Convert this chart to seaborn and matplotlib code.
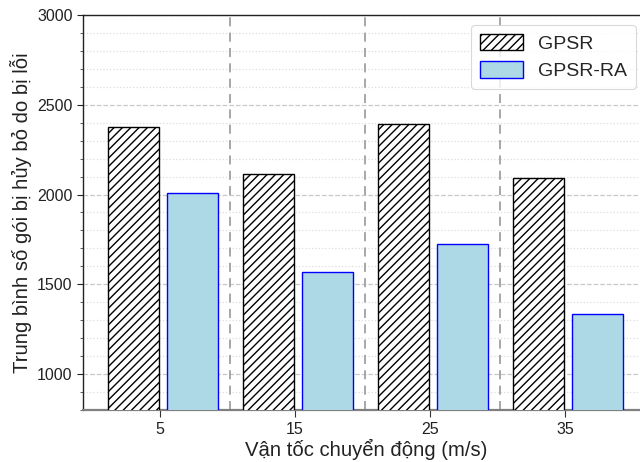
import matplotlib
matplotlib.use("Agg")
import matplotlib.pyplot as plt
from matplotlib.ticker import MultipleLocator
import seaborn as sns
import pandas as pd

speeds = [5, 15, 25, 35]
gpsr = [2378, 2112, 2393, 2093]
gpsr_ra = [2007, 1567, 1724, 1333]
series_names = ["GPSR", "GPSR-RA"]

sns.set_theme(style="white")
plt.rcParams["font.family"] = ["Liberation Sans", "DejaVu Sans"]
plt.rcParams["hatch.linewidth"] = 1.0

fig = plt.figure(figsize=(6.4, 4.62), dpi=100)
ax = fig.add_axes([0.1297, 0.1126, 0.884, 0.855])

bar_w = 3.8
df_a = pd.DataFrame({"x": [s - 1.95 for s in speeds], "y": gpsr})
df_b = pd.DataFrame({"x": [s + 2.42 for s in speeds], "y": gpsr_ra})

sns.barplot(data=df_a, x="x", y="y", native_scale=True, width=bar_w / 10,
            color="white", edgecolor="black", linewidth=1.0, hatch="////",
            label=series_names[0], ax=ax, zorder=3)
sns.barplot(data=df_b, x="x", y="y", native_scale=True, width=bar_w / 10,
            color="lightblue", saturation=1, edgecolor="blue", linewidth=1.0,
            label=series_names[1], ax=ax, zorder=3)
for p in ax.patches:
    if p.get_hatch():
        p.set_facecolor("white")

for s in speeds[:-1]:
    ax.axvline(s + 5.2, color="#a0a0a0", linestyle=(0, (5, 3.5)), linewidth=1.3, zorder=2)

ax.set_xlim(-0.7, 41.2)
ax.set_ylim(800, 3000)
ax.set_xticks(speeds)
ax.set_xticklabels([str(s) for s in speeds])
ax.yaxis.set_major_locator(MultipleLocator(500))
ax.yaxis.set_minor_locator(MultipleLocator(100))
ax.grid(axis="y", which="major", color="#c8c8c8", linestyle="--", linewidth=0.9, zorder=0)
ax.grid(axis="y", which="minor", color="#dddddd", linestyle=":", linewidth=0.9, zorder=0)
ax.set_axisbelow(True)

ax.tick_params(axis="both", which="major", labelsize=11.5, colors="#222222",
               length=4, width=0.8, direction="out", left=True, bottom=True)
ax.tick_params(axis="y", which="minor", length=2, width=0.6, left=True, color="#444444")
ax.tick_params(axis="x", which="major", length=5, color="#333333")

for side in ["left", "top", "right"]:
    ax.spines[side].set_color("#222222")
    ax.spines[side].set_linewidth(1.0)
ax.spines["bottom"].set_color("#808080")
ax.spines["bottom"].set_linewidth(1.6)

ax.set_xlabel("Vận tốc chuyển động (m/s)", fontsize=14.6, color="#222222", labelpad=1.5)
ax.set_ylabel("Trung bình số gói bị hủy bỏ do bị lỗi", fontsize=14.6, color="#222222", labelpad=3.5)

leg = ax.legend(loc="upper right", fontsize=14, frameon=True, fancybox=True,
                edgecolor="#d0d0d0", handlelength=2.2, handleheight=0.9,
                borderpad=0.45, labelspacing=0.45, handletextpad=0.8,
                bbox_to_anchor=(0.995, 0.999))
leg.get_frame().set_linewidth(0.8)

fig.savefig("out.png", dpi=100)
